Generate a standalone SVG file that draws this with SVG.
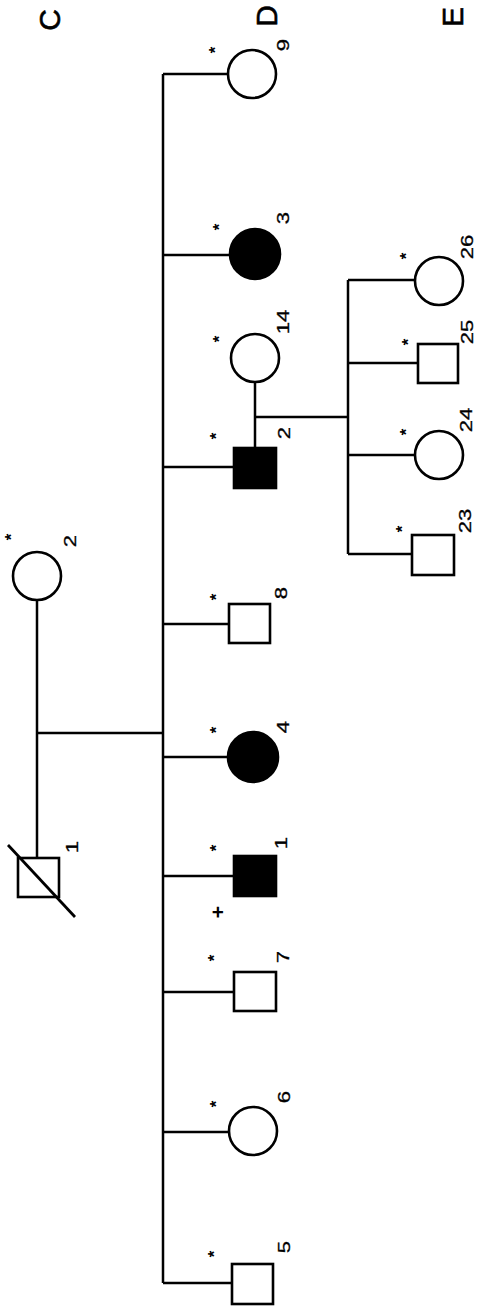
<svg xmlns="http://www.w3.org/2000/svg" width="480" height="1310" viewBox="0 0 480 1310">
<style>
.ln{stroke:#000;stroke-width:2.5;fill:none}
.op{stroke:#000;stroke-width:2.6;fill:#fff}
.af{stroke:#000;stroke-width:2.6;fill:#000}
.num{font-family:"Liberation Sans",Arial,sans-serif;font-size:17px;fill:#000;text-anchor:middle;stroke:#000;stroke-width:0.3}
.gen{font-family:"Liberation Sans",Arial,sans-serif;font-size:30px;fill:#000;stroke:#000;stroke-width:0.6;text-anchor:middle}
.st{font-family:"Liberation Sans",Arial,sans-serif;font-size:17px;font-weight:bold;fill:#000;text-anchor:middle}
.pl{font-family:"Liberation Sans",Arial,sans-serif;font-size:21px;font-weight:bold;fill:#000;text-anchor:middle}
</style>
<rect width="480" height="1310" fill="#fff"/>
<g id="generation-labels">
<text class="gen" transform="translate(60,20) rotate(-90)">C</text>
<text class="gen" transform="translate(277,16) rotate(-90)">D</text>
<text class="gen" transform="translate(463,17) rotate(-90)">E</text>
</g>
<g id="connectors">
<path class="ln" d="M163,74 V1283"/>
<path class="ln" d="M163,74 H228 M163,255 H230 M163,467 H233 M163,624 H229 M163,757 H227 M163,876 H233 M163,992 H233 M163,1132 H229 M163,1283 H232"/>
<path class="ln" d="M37,600 V858 M37,733 H163"/>
<path class="ln" d="M255,382 V448 M255,417 H348"/>
<path class="ln" d="M348,280 V554 M348,280 H415 M348,363 H418 M348,455 H415 M348,554 H412"/>
</g>
<g id="C1">
<rect class="op" x="18" y="858" width="41" height="39"/>
<path class="ln" d="M8,845 L75,917" style="stroke-width:2.8"/>
<text class="num" transform="translate(78,847) rotate(-90) scale(1.3,1)">1</text>
</g>
<g id="C2">
<circle class="op" cx="37" cy="576" r="24"/>
<text class="st" transform="translate(17,537) rotate(-90)">*</text>
<text class="num" transform="translate(76,541) rotate(-90) scale(1.3,1)">2</text>
</g>
<g id="D9">
<circle class="op" cx="252" cy="74" r="24"/>
<text class="st" transform="translate(221,50) rotate(-90)">*</text>
<text class="num" transform="translate(289,45) rotate(-90) scale(1.3,1)">9</text>
</g>
<g id="D3">
<circle class="af" cx="255" cy="254" r="25"/>
<text class="st" transform="translate(225,227) rotate(-90)">*</text>
<text class="num" transform="translate(289,218) rotate(-90) scale(1.3,1)">3</text>
</g>
<g id="D14">
<circle class="op" cx="255" cy="358" r="24"/>
<text class="st" transform="translate(225,339) rotate(-90)">*</text>
<text class="num" transform="translate(289,322) rotate(-90) scale(1.3,1)">14</text>
</g>
<g id="D2">
<rect class="af" x="234" y="448" width="42" height="40"/>
<text class="st" transform="translate(222,436) rotate(-90)">*</text>
<text class="num" transform="translate(290,433) rotate(-90) scale(1.3,1)">2</text>
</g>
<g id="D8">
<rect class="op" x="229" y="604" width="41" height="39"/>
<text class="st" transform="translate(222,597) rotate(-90)">*</text>
<text class="num" transform="translate(287,593) rotate(-90) scale(1.3,1)">8</text>
</g>
<g id="D4">
<circle class="af" cx="253" cy="757" r="25"/>
<text class="st" transform="translate(222,730) rotate(-90)">*</text>
<text class="num" transform="translate(289,727) rotate(-90) scale(1.3,1)">4</text>
</g>
<g id="D1">
<rect class="af" x="234" y="856" width="42" height="40"/>
<text class="st" transform="translate(222,848) rotate(-90)">*</text>
<text class="pl" transform="translate(225,912) rotate(-90)">+</text>
<text class="num" transform="translate(287,843) rotate(-90) scale(1.3,1)">1</text>
</g>
<g id="D7">
<rect class="op" x="234" y="972" width="42" height="39"/>
<text class="st" transform="translate(220,958) rotate(-90)">*</text>
<text class="num" transform="translate(289,957) rotate(-90) scale(1.3,1)">7</text>
</g>
<g id="D6">
<circle class="op" cx="253" cy="1131" r="24"/>
<text class="st" transform="translate(222,1104) rotate(-90)">*</text>
<text class="num" transform="translate(290,1097) rotate(-90) scale(1.3,1)">6</text>
</g>
<g id="D5">
<rect class="op" x="232" y="1264" width="41" height="40"/>
<text class="st" transform="translate(220,1254) rotate(-90)">*</text>
<text class="num" transform="translate(290,1247) rotate(-90) scale(1.3,1)">5</text>
</g>
<g id="E26">
<circle class="op" cx="439" cy="281" r="24"/>
<text class="st" transform="translate(412,256) rotate(-90)">*</text>
<text class="num" transform="translate(473,247) rotate(-90) scale(1.3,1)">26</text>
</g>
<g id="E25">
<rect class="op" x="418" y="344" width="40" height="39"/>
<text class="st" transform="translate(414,342) rotate(-90)">*</text>
<text class="num" transform="translate(473,332) rotate(-90) scale(1.3,1)">25</text>
</g>
<g id="E24">
<circle class="op" cx="439" cy="455" r="24"/>
<text class="st" transform="translate(412,432) rotate(-90)">*</text>
<text class="num" transform="translate(472,420) rotate(-90) scale(1.3,1)">24</text>
</g>
<g id="E23">
<rect class="op" x="412" y="535" width="42" height="40"/>
<text class="st" transform="translate(408,529) rotate(-90)">*</text>
<text class="num" transform="translate(471,521) rotate(-90) scale(1.3,1)">23</text>
</g>
</svg>
